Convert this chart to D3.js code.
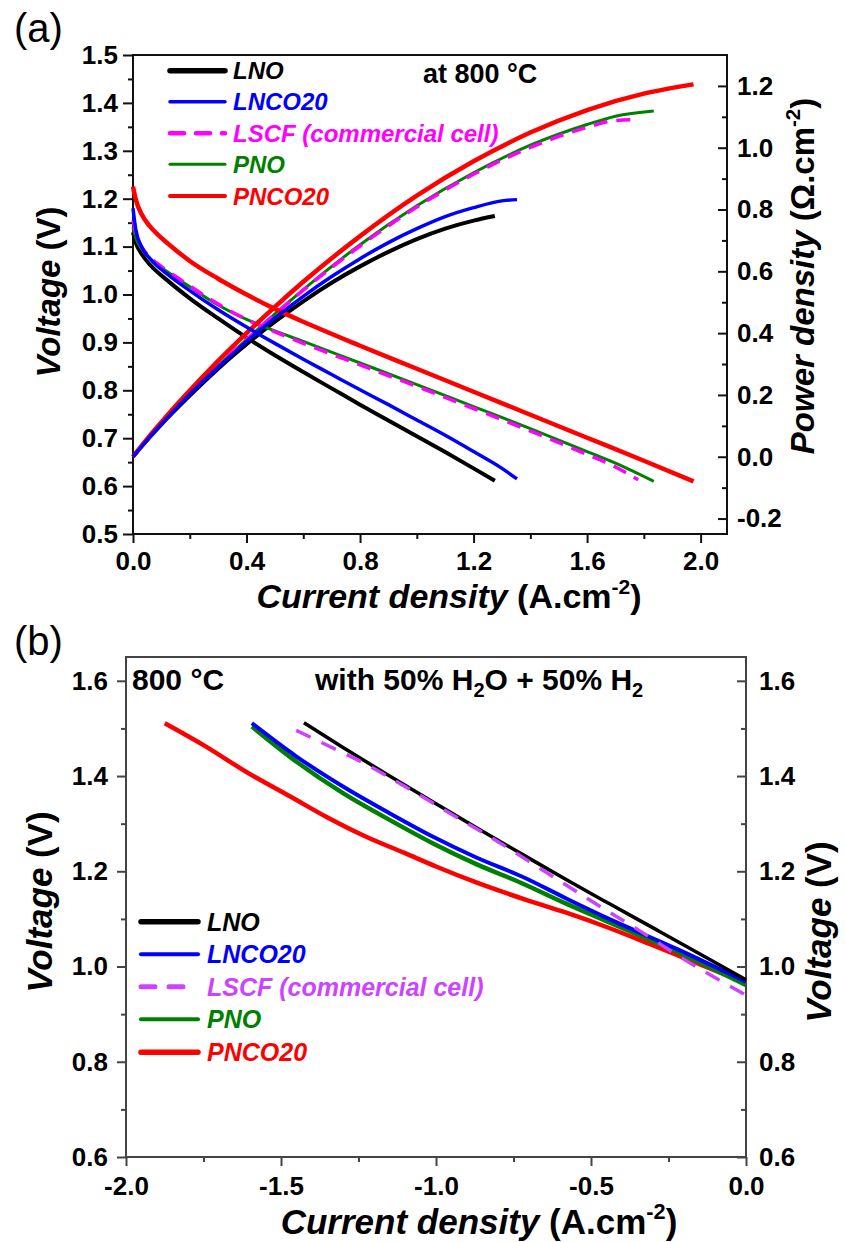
<!DOCTYPE html>
<html><head><meta charset="utf-8">
<script src="https://cdn.jsdelivr.net/npm/d3@7"></script>
<style>
body{margin:0;background:#fff}
svg{display:block}
text{font-family:"Liberation Sans", Arial, Helvetica, sans-serif}
</style>
</head><body>
<svg id="chart" width="845" height="1242"></svg>
<script>
// ---------------- DATA ----------------
const seriesNames = ["LNO", "LNCO20", "LSCF (commercial cell)", "PNO", "PNCO20"];

// Panel (a): fuel cell mode at 800 °C — current density (A/cm2), voltage (V), power density
const a_LNO_J    = [0, 0.01, 0.03, 0.06, 0.12, 0.2, 0.3, 0.4, 0.5, 0.6, 0.7, 0.8, 0.9, 1.0, 1.1, 1.2, 1.275];
const a_LNO_V    = [1.13, 1.108, 1.085, 1.062, 1.03, 0.992, 0.95, 0.91, 0.873, 0.838, 0.804, 0.77, 0.737, 0.704, 0.671, 0.637, 0.611];
const a_LNO_P    = [0, 0.011, 0.033, 0.064, 0.124, 0.198, 0.285, 0.364, 0.437, 0.503, 0.563, 0.616, 0.663, 0.704, 0.738, 0.764, 0.779];

const a_LNCO20_J = [0, 0.01, 0.03, 0.06, 0.12, 0.2, 0.3, 0.4, 0.5, 0.6, 0.7, 0.8, 0.9, 1.0, 1.1, 1.2, 1.3, 1.353];
const a_LNCO20_V = [1.18, 1.135, 1.1, 1.075, 1.043, 1.008, 0.968, 0.932, 0.898, 0.865, 0.833, 0.801, 0.77, 0.738, 0.706, 0.672, 0.637, 0.615];
const a_LNCO20_P = [0, 0.011, 0.033, 0.065, 0.125, 0.202, 0.29, 0.373, 0.449, 0.519, 0.583, 0.641, 0.693, 0.738, 0.777, 0.806, 0.828, 0.832];

const a_LSCF_J   = [0, 0.01, 0.03, 0.06, 0.12, 0.2, 0.3, 0.4, 0.5, 0.6, 0.8, 1.0, 1.2, 1.4, 1.6, 1.7, 1.78];
const a_LSCF_V   = [1.155, 1.128, 1.1, 1.078, 1.05, 1.018, 0.98, 0.948, 0.922, 0.898, 0.853, 0.808, 0.762, 0.715, 0.666, 0.64, 0.613];
const a_LSCF_P   = [0, 0.011, 0.033, 0.065, 0.126, 0.204, 0.294, 0.379, 0.461, 0.539, 0.682, 0.808, 0.914, 1.001, 1.066, 1.088, 1.091];

const a_PNO_J    = [0, 0.01, 0.03, 0.06, 0.12, 0.2, 0.3, 0.4, 0.5, 0.6, 0.8, 1.0, 1.2, 1.4, 1.6, 1.7, 1.835];
const a_PNO_V    = [1.14, 1.118, 1.095, 1.075, 1.048, 1.016, 0.978, 0.948, 0.924, 0.902, 0.857, 0.812, 0.766, 0.72, 0.672, 0.648, 0.61];
const a_PNO_P    = [0, 0.011, 0.033, 0.065, 0.126, 0.203, 0.293, 0.379, 0.462, 0.541, 0.686, 0.812, 0.919, 1.008, 1.075, 1.102, 1.119];

const a_PNCO20_J = [0, 0.01, 0.03, 0.06, 0.1, 0.15, 0.2, 0.3, 0.4, 0.5, 0.6, 0.8, 1.0, 1.2, 1.4, 1.6, 1.8, 1.975];
const a_PNCO20_V = [1.225, 1.198, 1.168, 1.142, 1.118, 1.093, 1.07, 1.033, 1.0, 0.97, 0.943, 0.893, 0.845, 0.797, 0.749, 0.701, 0.653, 0.61];
const a_PNCO20_P = [0, 0.012, 0.035, 0.069, 0.112, 0.164, 0.214, 0.31, 0.4, 0.485, 0.566, 0.714, 0.845, 0.956, 1.049, 1.122, 1.175, 1.205];

// Panel (b): electrolysis mode, 800 °C, 50% H2O + 50% H2
const b_LNO_J    = [-1.426, -1.3, -1.155, -1.0, -0.868, -0.72, -0.579, -0.43, -0.291, -0.15, 0];
const b_LNO_V    = [1.512, 1.46, 1.402, 1.342, 1.291, 1.235, 1.182, 1.128, 1.078, 1.027, 0.972];

const b_LNCO20_J = [-1.594, -1.45, -1.3, -1.15, -1.011, -0.87, -0.723, -0.58, -0.435, -0.22, 0];
const b_LNCO20_V = [1.511, 1.441, 1.378, 1.322, 1.273, 1.229, 1.189, 1.143, 1.098, 1.036, 0.968];

const b_LSCF_J   = [-1.451, -1.4, -1.33, -1.25, -1.1, -0.95, -0.8, -0.65, -0.5, -0.35, -0.2, 0];
const b_LSCF_V   = [1.496, 1.48, 1.458, 1.433, 1.378, 1.32, 1.262, 1.2, 1.138, 1.078, 1.015, 0.94];

const b_PNO_J    = [-1.594, -1.45, -1.3, -1.15, -1.011, -0.87, -0.723, -0.58, -0.435, -0.22, 0];
const b_PNO_V    = [1.504, 1.43, 1.364, 1.308, 1.259, 1.215, 1.175, 1.132, 1.091, 1.03, 0.961];

const b_PNCO20_J = [-1.875, -1.75, -1.6, -1.47, -1.35, -1.227, -1.1, -1.0, -0.868, -0.7, -0.58, -0.45, -0.291, -0.15, 0];
const b_PNCO20_V = [1.511, 1.465, 1.404, 1.357, 1.313, 1.273, 1.238, 1.21, 1.176, 1.138, 1.113, 1.083, 1.042, 1.005, 0.965];

// Tick values
const xTicksA = [0, 0.4, 0.8, 1.2, 1.6, 2.0];
const xMinorA = [0.2, 0.6, 1.0, 1.4, 1.8];
const yTicksA = [0.5, 0.6, 0.7, 0.8, 0.9, 1.0, 1.1, 1.2, 1.3, 1.4, 1.5];
const yMinorA = [0.55, 0.65, 0.75, 0.85, 0.95, 1.05, 1.15, 1.25, 1.35, 1.45];
const pTicksA = [-0.2, 0, 0.2, 0.4, 0.6, 0.8, 1.0, 1.2];
const pMinorA = [-0.1, 0.1, 0.3, 0.5, 0.7, 0.9, 1.1];
const xTicksB = [-2.0, -1.5, -1.0, -0.5, 0];
const xMinorB = [-1.75, -1.25, -0.75, -0.25];
const yTicksB = [0.6, 0.8, 1.0, 1.2, 1.4, 1.6];
const yMinorB = [0.7, 0.9, 1.1, 1.3, 1.5];

// ---------------- DRAW ----------------
const svg = d3.select("#chart");
svg.append("rect").attr("width", 845).attr("height", 1242).attr("fill", "#fff");
const fmt = d => d.toFixed(1);

function zip(J, Y) { return J.map((j, i) => ({x: j, y: Y[i]})); }

// Panel (a) scales
const xA = d3.scaleLinear().domain([0, 2.1]).range([133, 729]);
const yA = d3.scaleLinear().domain([0.5, 1.5]).range([534, 55]);
const pA = d3.scaleLinear().domain([-0.25, 1.3]).range([534, 55]);

// Panel (b) scales
const xB = d3.scaleLinear().domain([-2, 0]).range([126, 746]);
const yB = d3.scaleLinear().domain([0.6, 1.65]).range([1157, 657]);

function styleAxis(g, fs, col) {
  g.select(".domain").remove();
  g.selectAll("line").attr("stroke", col).attr("stroke-width", 2);
  g.selectAll("text").attr("font-size", fs).attr("font-weight", "bold").attr("fill", "#000")
    .style("font-family", '"Liberation Sans", Arial, sans-serif');
}

function addAxis(axis, tx, ty, fs, col) {
  const g = svg.append("g").attr("transform", `translate(${tx},${ty})`).call(axis);
  styleAxis(g, fs, col);
  return g;
}

// ---- Panel (a) axes
const axA = "#111";
addAxis(d3.axisBottom(xA).tickValues(xTicksA).tickFormat(fmt).tickSize(9).tickPadding(9).tickSizeOuter(0), 0, 534, 26, axA);
addAxis(d3.axisBottom(xA).tickValues(xMinorA).tickFormat("").tickSize(5).tickSizeOuter(0), 0, 534, 26, axA);
addAxis(d3.axisLeft(yA).tickValues(yTicksA).tickFormat(fmt).tickSize(10).tickPadding(5).tickSizeOuter(0), 133, 0, 26, axA);
addAxis(d3.axisLeft(yA).tickValues(yMinorA).tickFormat("").tickSize(5).tickSizeOuter(0), 133, 0, 26, axA);
addAxis(d3.axisRight(pA).tickValues(pTicksA).tickFormat(fmt).tickSize(-9).tickPadding(10).tickSizeOuter(0), 727, 0, 26, axA);
addAxis(d3.axisRight(pA).tickValues(pMinorA).tickFormat("").tickSize(-5).tickSizeOuter(0), 727, 0, 26, axA);
svg.append("rect").attr("x", 133).attr("y", 55).attr("width", 594).attr("height", 479)
  .attr("fill", "none").attr("stroke", axA).attr("stroke-width", 2);

// ---- Panel (a) curves
const colorsA = ["#000000", "#0000FF", "#FF00FF", "#008000", "#FF0000"];
const widthsA = [4, 3.5, 3.5, 3, 4.5];
const dashA = [null, null, "14,9", null, null];
const seriesA = [
  {J: a_LNO_J, V: a_LNO_V, P: a_LNO_P},
  {J: a_LNCO20_J, V: a_LNCO20_V, P: a_LNCO20_P},
  {J: a_LSCF_J, V: a_LSCF_V, P: a_LSCF_P},
  {J: a_PNO_J, V: a_PNO_V, P: a_PNO_P},
  {J: a_PNCO20_J, V: a_PNCO20_V, P: a_PNCO20_P}
];
const lineAV = d3.line().x(d => xA(d.x)).y(d => yA(d.y)).curve(d3.curveMonotoneX);
const lineAP = d3.line().x(d => xA(d.x)).y(d => pA(d.y)).curve(d3.curveMonotoneX);
const drawOrderA = [0, 3, 2, 4, 1];
drawOrderA.forEach(i => {
  const s = seriesA[i];
  [lineAV(zip(s.J, s.V)), lineAP(zip(s.J, s.P))].forEach(dpath => {
    svg.append("path").attr("d", dpath).attr("fill", "none")
      .attr("stroke", colorsA[i]).attr("stroke-width", widthsA[i])
      .attr("stroke-dasharray", dashA[i]).attr("stroke-linejoin", "round");
  });
});

// ---- Panel (a) legend
const legRowsA = [70.7, 101.7, 133.3, 164.3, 196];
const legLwA = [5.5, 3.5, 4.5, 3, 4];
seriesNames.forEach((n, i) => {
  svg.append("line").attr("x1", 170).attr("x2", 225).attr("y1", legRowsA[i]).attr("y2", legRowsA[i])
    .attr("stroke", colorsA[i]).attr("stroke-width", legLwA[i])
    .attr("stroke-dasharray", i === 2 ? "14,12" : null).attr("stroke-linecap", "round");
  svg.append("text").attr("x", 233).attr("y", legRowsA[i] + 8.5).text(n)
    .attr("font-size", 24).attr("font-weight", "bold").attr("font-style", "italic").attr("fill", colorsA[i]);
});
svg.append("text").attr("x", 423).attr("y", 83).text("at 800 °C")
  .attr("font-size", 27).attr("font-weight", "bold").attr("fill", "#000");

// ---- Titles helper
function title(x, y, rot, fs, parts) {
  const t = svg.append("text").attr("transform", `translate(${x},${y})` + (rot ? " rotate(-90)" : ""))
    .attr("text-anchor", "middle").attr("font-size", fs).attr("font-weight", "bold").attr("fill", "#000");
  parts.forEach(p => {
    const ts = t.append("tspan").text(p.t);
    if (p.it) ts.attr("font-style", "italic");
    if (p.sup) ts.attr("font-size", fs * 0.62).attr("dy", -fs * 0.42);
    if (p.down) ts.attr("dy", fs * 0.42);
  });
}
title(449, 608, false, 34, [{t: "Current density", it: true}, {t: " (A.cm"}, {t: "-2", sup: true}, {t: ")", down: true}]);
title(59.5, 292, true, 33, [{t: "Voltage", it: true}, {t: " (V)"}]);
title(813.5, 276, true, 33, [{t: "Power density", it: true}, {t: " (Ω.cm"}, {t: "-2", sup: true}, {t: ")", down: true}]);
svg.append("text").attr("x", 14).attr("y", 42).text("(a)").attr("font-size", 40).attr("fill", "#000");

// ---- Panel (b) axes
const axB = "#444";
addAxis(d3.axisBottom(xB).tickValues(xTicksB).tickFormat(fmt).tickSize(9).tickPadding(11).tickSizeOuter(0), 0, 1157, 26, axB);
addAxis(d3.axisBottom(xB).tickValues(xMinorB).tickFormat("").tickSize(5).tickSizeOuter(0), 0, 1157, 26, axB);
addAxis(d3.axisLeft(yB).tickValues(yTicksB).tickFormat(fmt).tickSize(9).tickPadding(9).tickSizeOuter(0), 126, 0, 26, axB);
addAxis(d3.axisLeft(yB).tickValues(yMinorB).tickFormat("").tickSize(5).tickSizeOuter(0), 126, 0, 26, axB);
addAxis(d3.axisRight(yB).tickValues(yTicksB).tickFormat(fmt).tickSize(-9).tickPadding(13).tickSizeOuter(0), 746, 0, 26, axB);
addAxis(d3.axisRight(yB).tickValues(yMinorB).tickFormat("").tickSize(-5).tickSizeOuter(0), 746, 0, 26, axB);
svg.append("rect").attr("x", 126).attr("y", 657).attr("width", 620).attr("height", 500)
  .attr("fill", "none").attr("stroke", axB).attr("stroke-width", 2);

// ---- Panel (b) curves
const colorsB = ["#000000", "#0000FF", "#CC44FF", "#008000", "#FF0000"];
const widthsB = [3.5, 4, 3.5, 4.5, 4.5];
const dashB = [null, null, "16,12", null, null];
const seriesB = [
  {J: b_LNO_J, V: b_LNO_V},
  {J: b_LNCO20_J, V: b_LNCO20_V},
  {J: b_LSCF_J, V: b_LSCF_V},
  {J: b_PNO_J, V: b_PNO_V},
  {J: b_PNCO20_J, V: b_PNCO20_V}
];
const lineB = d3.line().x(d => xB(d.x)).y(d => yB(d.y)).curve(d3.curveMonotoneX);
const drawOrderB = [4, 3, 1, 0, 2];
drawOrderB.forEach(i => {
  const s = seriesB[i];
  svg.append("path").attr("d", lineB(zip(s.J, s.V))).attr("fill", "none")
    .attr("stroke", colorsB[i]).attr("stroke-width", widthsB[i])
    .attr("stroke-dasharray", dashB[i]).attr("stroke-linejoin", "round");
});

// ---- Panel (b) legend
const legRowsB = [921.7, 954.3, 986.7, 1019.3, 1052.3];
const legLwB = [5.5, 4, 5, 4, 5.5];
seriesNames.forEach((n, i) => {
  svg.append("line").attr("x1", 141).attr("x2", i === 2 ? 183 : 198).attr("y1", legRowsB[i]).attr("y2", legRowsB[i])
    .attr("stroke", colorsB[i]).attr("stroke-width", legLwB[i])
    .attr("stroke-dasharray", i === 2 ? "14,14" : null).attr("stroke-linecap", "round");
  svg.append("text").attr("x", 207).attr("y", legRowsB[i] + 9).text(n)
    .attr("font-size", 25).attr("font-weight", "bold").attr("font-style", "italic").attr("fill", colorsB[i]);
});
svg.append("text").attr("x", 132).attr("y", 690).text("800 °C")
  .attr("font-size", 30).attr("font-weight", "bold").attr("fill", "#000");
const cond = svg.append("text").attr("x", 315).attr("y", 690).attr("font-size", 30).attr("font-weight", "bold").attr("fill", "#000");
cond.append("tspan").text("with 50% H");
cond.append("tspan").text("2").attr("font-size", 20).attr("dy", 7);
cond.append("tspan").text("O + 50% H").attr("dy", -7);
cond.append("tspan").text("2").attr("font-size", 20).attr("dy", 7);

title(479, 1234, false, 35, [{t: "Current density", it: true}, {t: " (A.cm"}, {t: "-2", sup: true}, {t: ")", down: true}]);
title(52, 902, true, 35, [{t: "Voltage", it: true}, {t: " (V)"}]);
title(831, 932, true, 35, [{t: "Voltage", it: true}, {t: " (V)"}]);
svg.append("text").attr("x", 14).attr("y", 655).text("(b)").attr("font-size", 40).attr("fill", "#000");
</script>
</body></html>
